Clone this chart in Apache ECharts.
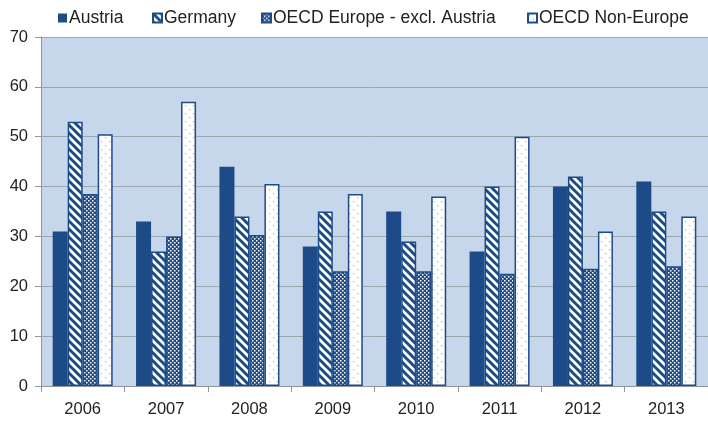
<!DOCTYPE html>
<html>
<head>
<meta charset="utf-8">
<script src="https://cdn.jsdelivr.net/npm/echarts@6/dist/echarts.min.js"></script>
<style>html,body{margin:0;padding:0;background:#fff}#c{width:708px;height:421px}</style>
</head>
<body>
<div id="c"></div>
<script>
const categories = ['2006','2007','2008','2009','2010','2011','2012','2013'];
const seriesNames = ['Austria','Germany','OECD Europe - excl. Austria','OECD Non-Europe'];
const austria = [31, 33, 44, 28, 35, 27, 40, 41];
const germany = [53, 27, 34, 35, 29, 40, 42, 35];
const oecdEurope = [38.5, 30, 30.3, 23, 23, 22.5, 23.5, 24];
const oecdNonEurope = [50.5, 57, 40.5, 38.5, 38, 50, 31, 34];
const yTicks = [0, 10, 20, 30, 40, 50, 60, 70];

const NAVY = '#1d4b87';

function mkCanvas(w, h, draw) {
  const c = document.createElement('canvas');
  c.width = w; c.height = h;
  draw(c.getContext('2d'), w, h);
  return c;
}
const stripe = mkCanvas(8, 8, (g, w, h) => {
  g.fillStyle = '#fff'; g.fillRect(0, 0, w, h);
  g.strokeStyle = NAVY; g.lineWidth = 3;
  for (let o = -8; o <= 8; o += 8) {
    g.beginPath(); g.moveTo(o - 1, -1); g.lineTo(o + 9, 9); g.stroke();
  }
});
const mesh = mkCanvas(4, 4, (g, w, h) => {
  g.fillStyle = NAVY; g.fillRect(0, 0, w, h);
  g.fillStyle = '#fff';
  g.fillRect(0, 0, 1.5, 1.5);
  g.fillRect(2, 2, 1.5, 1.5);
});
const dots = mkCanvas(8, 8, (g, w, h) => {
  g.fillStyle = '#fff'; g.fillRect(0, 0, w, h);
  g.fillStyle = '#a9b3bf';
  g.fillRect(1, 1, 1.2, 1.2);
  g.fillRect(5, 5, 1.2, 1.2);
});

const fills = [NAVY, {image: stripe, repeat: 'repeat'}, {image: mesh, repeat: 'repeat'}, {image: dots, repeat: 'repeat'}];
const datas = [austria, germany, oecdEurope, oecdNonEurope];
const legendLeft = [53, 147, 256, 522];

const chart = echarts.init(document.getElementById('c'), null, {renderer: 'canvas'});
chart.setOption({
  animation: false,
  backgroundColor: '#fff',
  legend: seriesNames.map((n, i) => ({
    data: [n], left: legendLeft[i], top: 4, icon: 'rect',
    itemWidth: 9, itemHeight: 9, itemGap: 0,
    textStyle: {fontFamily: 'Liberation Sans, Arial, sans-serif', fontSize: 17.5, color: '#222', padding: [0, 0, 0, -3]}
  })),
  grid: {left: 41, right: -5, top: 37, bottom: 35, show: true, backgroundColor: '#c6d7ec', borderWidth: 0},
  xAxis: {
    type: 'category', data: categories,
    axisLine: {lineStyle: {color: '#8e959c', width: 1}},
    axisTick: {show: true, length: 6, lineStyle: {color: '#8e959c'}},
    axisLabel: {margin: 15, fontFamily: 'Liberation Sans, Arial, sans-serif', fontSize: 16.5, color: '#222'}
  },
  yAxis: {
    type: 'value', min: yTicks[0], max: yTicks[yTicks.length - 1], interval: 10,
    axisLine: {show: true, lineStyle: {color: '#8e959c'}},
    axisTick: {show: true, length: 6, lineStyle: {color: '#8e959c'}},
    splitLine: {lineStyle: {color: '#9ea6ae', width: 1}},
    axisLabel: {margin: 13, fontFamily: 'Liberation Sans, Arial, sans-serif', fontSize: 16.5, color: '#222'}
  },
  series: seriesNames.map((n, i) => ({
    name: n, type: 'bar', data: datas[i], barWidth: 15, barGap: '0%',
    itemStyle: {color: fills[i], borderColor: NAVY, borderWidth: i === 0 ? 0 : 1.5}
  }))
});
</script>
</body>
</html>
